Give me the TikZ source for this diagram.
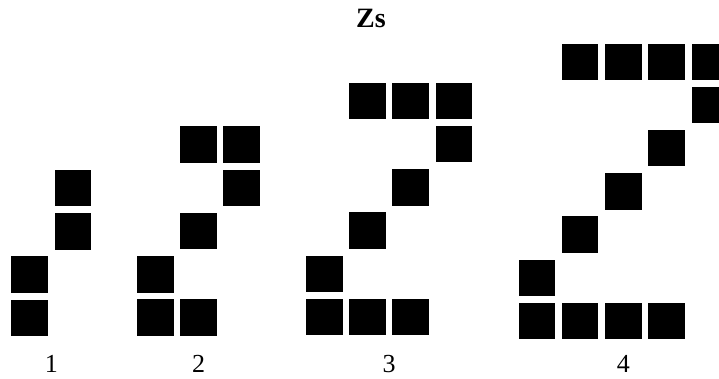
\documentclass[tikz,border=0pt]{standalone}
\usepackage{fontspec}
\setmainfont{Liberation Serif}
\begin{document}
\begin{tikzpicture}[
  x=1pt, y=-1pt,
  blk/.style={fill=black, inner sep=0pt, minimum size=36.5pt},
  lbl/.style={anchor=base, font=\fontsize{26}{30}\selectfont},
  ttl/.style={anchor=base, font=\fontsize{28}{32}\selectfont\bfseries}
]
\useasboundingbox (0,0) rectangle (719,379);
\def\pitch{43.2}

\node[ttl] (title) at (371,28) {Zs};

% figure n: origin (x of column 0, y of row 0)
\foreach \n/\ox/\oy in {1/29.7/317.8, 2/155.3/317.5, 3/324.3/317, 4/537/321}{
  % bottom row
  \foreach \c in {1,...,\n}
    \node[blk] (f\n-b\c) at ({\ox+(\c-1)*\pitch},\oy) {};
  % diagonal
  \foreach \k in {1,...,\numexpr\n+1\relax}
    \node[blk] (f\n-d\k) at ({\ox+(\k-1)*\pitch},{\oy-\k*\pitch}) {};
  % top row
  \foreach \c in {1,...,\n}
    \node[blk] (f\n-t\c) at ({\ox+\c*\pitch},{\oy-(\n+2)*\pitch}) {};
  \node[lbl] (lab\n) at ({\ox+\n*\pitch/2},372) {\n};
}
\end{tikzpicture}
\end{document}
